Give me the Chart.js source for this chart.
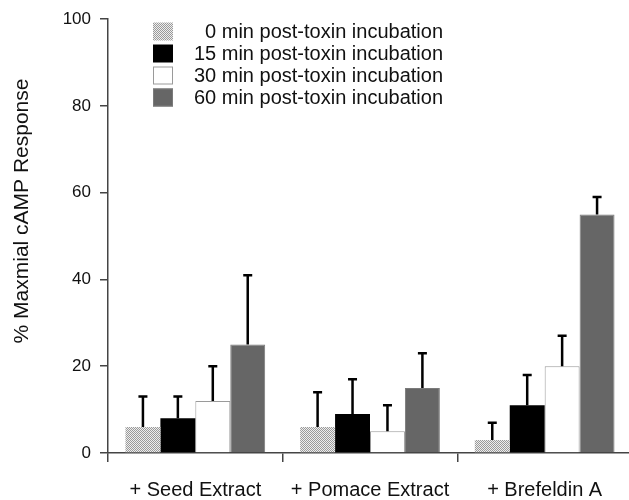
<!DOCTYPE html>
<html>
<head>
<meta charset="utf-8">
<script src="https://cdn.jsdelivr.net/npm/chart.js@4"></script>
<style>
  html, body { margin: 0; padding: 0; background: #fff; overflow: hidden; }
  #wrap { width: 640px; height: 500px; }
</style>
</head>
<body>
<div id="wrap"><canvas id="chart"></canvas></div>
<script>
// Data
const categories = ['+ Seed Extract', '+ Pomace Extract', '+ Brefeldin A'];
const seriesNames = [
  '0 min post-toxin incubation',
  '15 min post-toxin incubation',
  '30 min post-toxin incubation',
  '60 min post-toxin incubation'
];
const min0 = [6, 6, 3];
const min15 = [8, 9, 11];
const min30 = [12, 5, 20];
const min60 = [25, 15, 55];
// upper error (SD) for each bar
const err0 = [7, 8, 4];
const err15 = [5, 8, 7];
const err30 = [8, 6, 7];
const err60 = [16, 8, 4];
const yTicks = [0, 20, 40, 60, 80, 100];

const FONT = 'Liberation Sans, Arial, sans-serif';

// dotted fill for the 0 min bars
function makeDots() {
  const c = document.createElement('canvas');
  c.width = 2; c.height = 2;
  const g = c.getContext('2d');
  g.fillStyle = '#eeeeee'; g.fillRect(0, 0, 2, 2);
  g.fillStyle = '#9a9a9a';
  g.fillRect(0, 0, 1, 1); g.fillRect(1, 1, 1, 1);
  return g.createPattern(c, 'repeat');
}
const dots = makeDots();

// upward error bars
const errorBars = {
  id: 'errorBars',
  afterDatasetsDraw(chart) {
    const { ctx, scales: { y } } = chart;
    ctx.save();
    ctx.strokeStyle = '#000';
    ctx.lineWidth = 2.5;
    chart.data.datasets.forEach((ds, i) => {
      const meta = chart.getDatasetMeta(i);
      meta.data.forEach((bar, j) => {
        const top = y.getPixelForValue(ds.data[j] + ds.errors[j]);
        ctx.beginPath();
        ctx.moveTo(bar.x, bar.y);
        ctx.lineTo(bar.x, top);
        ctx.moveTo(bar.x - 4.5, top);
        ctx.lineTo(bar.x + 4.5, top);
        ctx.stroke();
      });
    });
    ctx.restore();
  }
};

// legend inside plot + rotated y title
const extras = {
  id: 'extras',
  afterDraw(chart) {
    const { ctx } = chart;
    ctx.save();
    ctx.font = '20px ' + FONT;
    ctx.textBaseline = 'middle';
    ctx.textAlign = 'right';
    const rows = [31.5, 53.5, 75.5, 97.5];
    chart.data.datasets.forEach((ds, i) => {
      const cy = rows[i];
      ctx.fillStyle = ds.backgroundColor;
      ctx.fillRect(153, cy - 9, 20, 18);
      if (ds.borderWidth) {
        ctx.strokeStyle = ds.borderColor;
        ctx.lineWidth = 1;
        ctx.strokeRect(153.5, cy - 8.5, 19, 17);
      }
      ctx.fillStyle = '#111';
      ctx.fillText(ds.label, 443, cy + 1);
    });
    ctx.font = '21px ' + FONT;
    ctx.translate(22, 211);
    ctx.rotate(-Math.PI / 2);
    ctx.textAlign = 'center';
    ctx.fillText('% Maxmial cAMP Response', 0, 0);
    ctx.restore();
  }
};

new Chart(document.getElementById('chart'), {
  type: 'bar',
  data: {
    labels: categories,
    datasets: [
      { label: seriesNames[0], data: min0, errors: err0, backgroundColor: dots, borderWidth: 0 },
      { label: seriesNames[1], data: min15, errors: err15, backgroundColor: '#000000', borderWidth: 0 },
      { label: seriesNames[2], data: min30, errors: err30, backgroundColor: '#ffffff', borderColor: '#9a9a9a', borderWidth: 1 },
      { label: seriesNames[3], data: min60, errors: err60, backgroundColor: '#666666', borderColor: '#7a7a7a', borderWidth: 1 }
    ]
  },
  options: {
    responsive: true,
    maintainAspectRatio: false,
    animation: false,
    datasets: { bar: { barPercentage: 1, categoryPercentage: 0.8 } },
    layout: { padding: { top: 15, right: 8, left: 0, bottom: 0 } },
    plugins: { legend: { display: false }, tooltip: { enabled: false } },
    scales: {
      x: {
        grid: { offset: true, drawOnChartArea: false, tickLength: 9, color: '#444', lineWidth: 1.5 },
        border: { color: '#444', width: 1.5 },
        ticks: { font: { family: FONT, size: 20 }, color: '#111', padding: 16, maxRotation: 0 },
        afterFit: s => { s.height = 47; }
      },
      y: {
        min: 0,
        max: 100,
        afterBuildTicks: s => { s.ticks = yTicks.map(v => ({ value: v })); },
        grid: { drawOnChartArea: false, tickLength: 8, color: '#444', lineWidth: 1.5 },
        border: { color: '#444', width: 1.5 },
        ticks: { font: { family: FONT, size: 17 }, color: '#111', padding: 9 },
        afterFit: s => { s.width = 108; }
      }
    }
  },
  plugins: [errorBars, extras]
});
</script>
</body>
</html>
